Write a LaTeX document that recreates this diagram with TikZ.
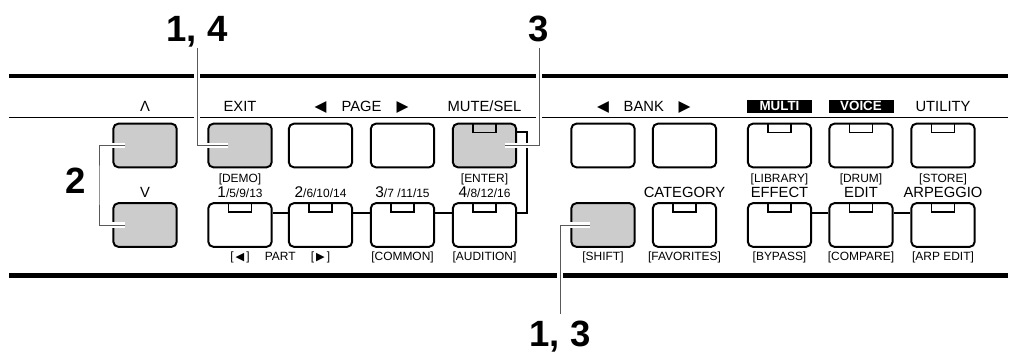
\documentclass[tikz,border=0pt]{standalone}
\usepackage{fontspec}
\setmainfont{Liberation Sans}
\newfontfamily\symfont{DejaVu Sans}
\usepackage{tikz}
\usetikzlibrary{positioning,calc}

\newcommand{\ledcap}[1]{%
  \draw[ledline] ([xshift=-8.2pt,yshift=-0.7pt]#1.north) -- ++(0,-6.2pt) -- ++(16.4pt,0) -- ++(0,6.2pt);}

\begin{document}
\begin{tikzpicture}[
    x=0.025cm, y=-0.025cm,
    btn/.style={draw, line width=1.4pt, rounded corners=3.5pt, fill=white,
                minimum width=45pt, minimum height=31pt, inner sep=0pt},
    hot/.style={btn, fill=black!20},
    ledline/.style={line width=1pt},
    link/.style={line width=1pt},
    leader/.style={draw=black!65, line width=0.7pt,
                   preaction={draw=white, line width=4.2pt}},
    panel/.style={line width=2.9pt},
    hair/.style={line width=0.7pt},
    toplab/.style={font=\fontsize{10.5}{12}\selectfont, inner sep=0pt,
                   text height=7.5pt, text depth=0pt},
    sublab/.style={font=\fontsize{8.5}{10}\selectfont, inner sep=0pt,
                   text height=6.1pt, text depth=0pt},
    modelab/.style={font=\fontsize{9.5}{11}\selectfont\bfseries, fill=black, text=white,
                    inner sep=0pt, minimum width=46.2pt, minimum height=9.2pt},
    numlab/.style={font=\fontsize{26}{30}\selectfont\bfseries, inner sep=4pt,
                   text height=18.6pt, text depth=0pt, anchor=base},
    tri/.style={toplab, font=\symfont\fontsize{11}{12}\selectfont},
]
\useasboundingbox (0,0) rectangle (1016,354);

% panel lines
\draw[panel] (9,76) -- (1008,76);
\draw[hair] (9,117) -- (1008,117);
\draw[panel] (9,275.5) -- (1008,275.5);

% upper row of buttons
\node[hot] (up) at (145,145.5) {};
\node[hot] (exit) at (240,145.5) {};
\node[btn] (pgl) at (320.5,145.5) {};
\node[btn] (pgr) at (402.5,145.5) {};
\node[hot] (mute) at (484.5,145.5) {};
\node[btn] (bkl) at (603,145.5) {};
\node[btn] (bkr) at (684.5,145.5) {};
\node[btn] (multi) at (779.5,145.5) {};
\node[btn] (voice) at (861,145.5) {};
\node[btn] (util) at (943,145.5) {};

% lower row of buttons
\node[hot] (down) at (145,225) {};
\node[btn] (pt1) at (240,225) {};
\node[btn] (pt2) at (320.5,225) {};
\node[btn] (pt3) at (402.5,225) {};
\node[btn] (pt4) at (484.5,225) {};
\node[hot] (shift) at (603,225) {};
\node[btn] (cat) at (684.5,225) {};
\node[btn] (effect) at (779.5,225) {};
\node[btn] (edit) at (861,225) {};
\node[btn] (arp) at (943,225) {};

% lamps
\foreach \b in {mute,multi,voice,util,pt1,pt2,pt3,pt4,cat,effect,edit,arp}
  \ledcap{\b};

% labels above the upper row
\coordinate (pgmid) at ($(pgl.north)!.5!(pgr.north)$);
\coordinate (bkmid) at ($(bkl.north)!.5!(bkr.north)$);
\node[toplab, above=7.5pt of up] {Λ};
\node[toplab, above=7.5pt of exit] {EXIT};
\node[tri, above=7.5pt of pgl] {◀};
\node[toplab, above=7.5pt of pgmid] {PAGE};
\node[tri, above=7.5pt of pgr] {▶};
\node[toplab, above=7.5pt of mute] {MUTE/SEL};
\node[tri, above=7.5pt of bkl] {◀};
\node[toplab, above=7.5pt of bkmid] {BANK};
\node[tri, above=7.5pt of bkr] {▶};
\node[modelab, above=7pt of multi] {MULTI};
\node[modelab, above=7pt of voice] {VOICE};
\node[toplab, above=7.5pt of util] {UTILITY};

% labels below the upper row
\node[sublab, below=4pt of exit] {[DEMO]};
\node[sublab, below=4pt of mute] {[ENTER]};
\node[sublab, below=4pt of multi] {[LIBRARY]};
\node[sublab, below=4pt of voice] {[DRUM]};
\node[sublab, below=4pt of util] {[STORE]};

% labels above the lower row
\node[toplab, above=3pt of down] {V};
\node[sublab, above=3pt of pt1] {{\fontsize{11}{12}\selectfont 1}/5/9/13};
\node[sublab, above=3pt of pt2] {{\fontsize{11}{12}\selectfont 2}/6/10/14};
\node[sublab, above=3pt of pt3] {{\fontsize{11}{12}\selectfont 3}/7 /11/15};
\node[sublab, above=3pt of pt4] {{\fontsize{11}{12}\selectfont 4}/8/12/16};
\node[toplab, above=3pt of cat] {CATEGORY};
\node[toplab, above=3pt of effect] {EFFECT};
\node[toplab, above=3pt of edit] {EDIT};
\node[toplab, above=3pt of arp] {ARPEGGIO};

% labels below the lower row
\coordinate (ptmid) at ($(pt1.south)!.5!(pt2.south)$);
\node[sublab, below=3pt of pt1] {[\,{\symfont\fontsize{8}{9}\selectfont ◀}\,]};
\node[sublab, below=3pt of ptmid] {PART};
\node[sublab, below=3pt of pt2] {[\,{\symfont\fontsize{8}{9}\selectfont ▶}\,]};
\node[sublab, below=3pt of pt3] {[COMMON]};
\node[sublab, below=3pt of pt4] {[AUDITION]};
\node[sublab, below=3pt of shift] {[SHIFT]};
\node[sublab, below=3pt of cat] {[FAVORITES]};
\node[sublab, below=3pt of effect] {[BYPASS]};
\node[sublab, below=3pt of edit] {[COMPARE]};
\node[sublab, below=3pt of arp] {[ARP EDIT]};

% links between buttons
\foreach \a/\b in {pt1/pt2, pt2/pt3, pt3/pt4, effect/edit, edit/arp}
  \draw[link] ([yshift=8.5pt]\a.east) -- ([yshift=8.5pt]\b.west);
\draw[link] ([yshift=9.6pt]mute.east) -- ++(7.1pt,0) |- ([yshift=8.5pt]pt4.east);

% step numbers and leaders
\node[numlab] (n14) at (197,42) {1, 4};
\node[numlab] (n3) at (539,42) {3};
\node[numlab] (n13) at (560,346) {1, 3};
\node[numlab] (n2) at (76,193) {2};
\coordinate (brk) at (99,185);

\draw[leader] (n14.south) |- ([xshift=-8.5pt]exit.center);
\draw[leader] (n3.south) |- ([xshift=14.6pt]mute.center);
\draw[leader] (n13.north) |- ([xshift=-9.2pt]shift.center);
\draw[leader] ([xshift=-14.2pt]up.center) -| (brk) |- ([xshift=-14.2pt]down.center);

\end{tikzpicture}
\end{document}
